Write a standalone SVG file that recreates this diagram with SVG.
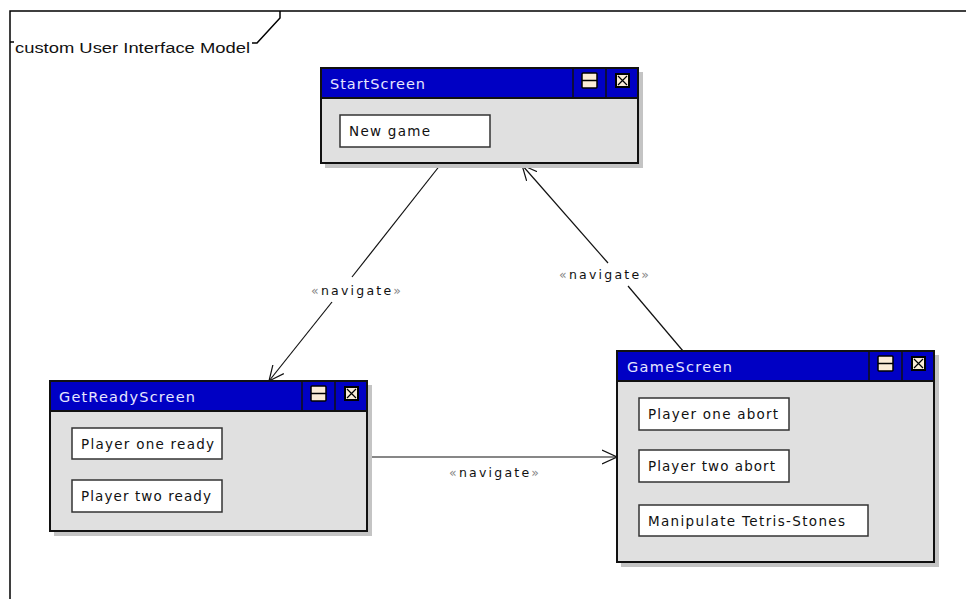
<svg xmlns="http://www.w3.org/2000/svg" width="966" height="599" viewBox="0 0 966 599">
  <style>
    .frame { fill: none; stroke: #000; stroke-width: 1.5; }
    .shadow { fill: #c4c4c4; }
    .body { fill: #e0e0e0; stroke: #111; stroke-width: 2; }
    .bar { fill: #0000c4; stroke: #111; stroke-width: 2; }
    .sep { stroke: #111; stroke-width: 1.5; }
    .title { font-family: "DejaVu Sans", Verdana, sans-serif; font-size: 14.5px; fill: #e6e6ff; }
    .btn { fill: #fff; stroke: #333; stroke-width: 1.5; }
    .btxt { font-family: "DejaVu Sans", Verdana, sans-serif; font-size: 13.5px; fill: #111; }
    .icon { fill: #faebd7; stroke: #000; stroke-width: 1.5; }
    .edge { fill: none; stroke: #111; stroke-width: 1.2; }
    .lbl { font-family: "DejaVu Sans", Verdana, sans-serif; font-size: 12.5px; fill: #111; }
    .gm { fill: #888; }
    .ftxt { font-family: "Liberation Sans", Arial, sans-serif; font-size: 14px; fill: #111; }
  </style>
  <defs>
    <marker id="open" viewBox="0 0 16 16" refX="15" refY="8" markerWidth="16" markerHeight="16" markerUnits="userSpaceOnUse" orient="auto">
      <path d="M0,1 L15,8 L0,15" fill="none" stroke="#111" stroke-width="1.2"/>
    </marker>
    <g id="winbtns">
      <rect x="0" y="5" width="15" height="15" rx="1" class="icon"/>
      <line x1="0" y1="12.5" x2="15" y2="12.5" stroke="#000" stroke-width="1.5"/>
      <rect x="33" y="5" width="15" height="15" fill="#000"/>
      <rect x="35" y="7" width="11" height="11" fill="#faebd7"/>
      <path d="M36,8 L45,17 M45,8 L36,17" stroke="#000" stroke-width="1.2"/>
    </g>
  </defs>

  <rect width="966" height="599" fill="#fff"/>

  <!-- package frame -->
  <g id="frame">
    <path class="frame" d="M10,599 V11 H966"/>
    <path class="frame" d="M280,11 V18 L257,43 H252"/>
    <path class="frame" d="M10,42 H14"/>
    <text class="ftxt" x="15" y="53" textLength="235" lengthAdjust="spacingAndGlyphs">custom User Interface Model</text>
  </g>

  <!-- connectors -->
  <g id="connectors">
    <path class="edge" d="M441,164 L352,277"/>
    <path class="edge" d="M332,302 L269,381" marker-end="url(#open)"/>
    <text class="lbl" x="311" y="295" textLength="90"><tspan class="gm">«</tspan>navigate<tspan class="gm">»</tspan></text>

    <path class="edge" d="M683,351 L628,286"/>
    <path class="edge" d="M608,263 L522,165" marker-end="url(#open)"/>
    <text class="lbl" x="559" y="279" textLength="90"><tspan class="gm">«</tspan>navigate<tspan class="gm">»</tspan></text>

    <path class="edge" d="M368,457 L617,457" marker-end="url(#open)"/>
    <text class="lbl" x="449" y="477" textLength="90"><tspan class="gm">«</tspan>navigate<tspan class="gm">»</tspan></text>
  </g>

  <!-- StartScreen -->
  <g id="StartScreen">
    <rect class="shadow" x="325" y="72" width="318" height="96"/>
    <rect class="body" x="321" y="98" width="317" height="65"/>
    <rect class="bar" x="321" y="68" width="317" height="30"/>
    <line class="sep" x1="573" y1="68" x2="573" y2="98"/>
    <line class="sep" x1="606" y1="68" x2="606" y2="98"/>
    <use href="#winbtns" x="582" y="68"/>
    <text class="title" x="330" y="89" textLength="95">StartScreen</text>
    <rect class="btn" x="340" y="115" width="150" height="32"/>
    <text class="btxt" x="349" y="136" textLength="81">New game</text>
  </g>

  <!-- GetReadyScreen -->
  <g id="GetReadyScreen">
    <rect class="shadow" x="54" y="385" width="318" height="151"/>
    <rect class="body" x="50" y="411" width="317" height="120"/>
    <rect class="bar" x="50" y="381" width="317" height="30"/>
    <line class="sep" x1="302" y1="381" x2="302" y2="411"/>
    <line class="sep" x1="335" y1="381" x2="335" y2="411"/>
    <use href="#winbtns" x="311" y="381"/>
    <text class="title" x="59" y="402" textLength="136">GetReadyScreen</text>
    <rect class="btn" x="72" y="428" width="150" height="31"/>
    <text class="btxt" x="81" y="449" textLength="133">Player one ready</text>
    <rect class="btn" x="72" y="480" width="150" height="32"/>
    <text class="btxt" x="81" y="501" textLength="130">Player two ready</text>
  </g>

  <!-- GameScreen -->
  <g id="GameScreen">
    <rect class="shadow" x="621" y="355" width="318" height="212"/>
    <rect class="body" x="617" y="381" width="317" height="181"/>
    <rect class="bar" x="617" y="351" width="317" height="30"/>
    <line class="sep" x1="869" y1="351" x2="869" y2="381"/>
    <line class="sep" x1="902" y1="351" x2="902" y2="381"/>
    <use href="#winbtns" x="878" y="351"/>
    <text class="title" x="627" y="372" textLength="105">GameScreen</text>
    <rect class="btn" x="639" y="398" width="150" height="32"/>
    <text class="btxt" x="648" y="419" textLength="130">Player one abort</text>
    <rect class="btn" x="639" y="450" width="150" height="32"/>
    <text class="btxt" x="648" y="471" textLength="127">Player two abort</text>
    <rect class="btn" x="639" y="505" width="229" height="31"/>
    <text class="btxt" x="648" y="526" textLength="197">Manipulate Tetris-Stones</text>
  </g>
</svg>
